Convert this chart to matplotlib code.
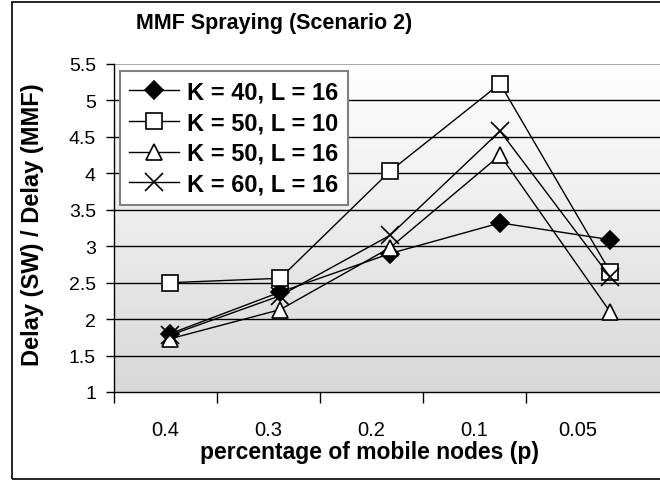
import numpy as np
import matplotlib
matplotlib.use("Agg")
import matplotlib.pyplot as plt
from matplotlib.patches import Rectangle
from matplotlib.ticker import FixedLocator, NullFormatter, FixedFormatter

plt.rcParams['font.family'] = ['Liberation Sans', 'DejaVu Sans']

categories = ["0.4", "0.3", "0.2", "0.1", "0.05"]
k40_l16 = [1.80, 2.37, 2.90, 3.32, 3.09]
k50_l10 = [2.50, 2.56, 4.03, 5.23, 2.65]
k50_l16 = [1.73, 2.13, 2.98, 4.25, 2.10]
k60_l16 = [1.78, 2.32, 3.15, 4.58, 2.58]
series_labels = ["K = 40, L = 16", "K = 50, L = 10", "K = 50, L = 16", "K = 60, L = 16"]
yticks = [1, 1.5, 2, 2.5, 3, 3.5, 4, 4.5, 5, 5.5]

W, H = 660, 481
fig = plt.figure(figsize=(W / 100, H / 100), dpi=100)

# axes placement in pixels
left_px, right_px, top_px, bot_px = 114, 660, 65, 393
ax = fig.add_axes([left_px / W, 1 - bot_px / H, (right_px - left_px) / W, (bot_px - top_px) / H])

# data x positions (category spacing 110px in reference)
cat_px = 110.0
xmax = (right_px - left_px) / cat_px
x = np.arange(len(categories)) + 0.51
ax.set_xlim(0, xmax)
ax.set_ylim(1, 5.5)

# gradient background
grad = np.linspace(0, 1, 256).reshape(-1, 1)
ax.imshow(grad, cmap=matplotlib.colors.LinearSegmentedColormap.from_list(
    "g", ["#d8d8d8", "#ffffff"]), origin="lower", aspect="auto",
    extent=[0, xmax, 1, 5.5], zorder=0)

# gridlines
for yv in yticks[1:-1]:
    ax.axhline(yv, color="black", lw=1.0, zorder=1)
ax.axhline(5.5, color="#999999", lw=1.2, zorder=1)

mk = dict(color="black", lw=1.0, markeredgecolor="black", markeredgewidth=1.2, zorder=3)
ax.plot(x, k40_l16, marker="D", markersize=9, markerfacecolor="black", label=series_labels[0], **mk)
ax.plot(x, k50_l10, marker="s", markersize=12, markerfacecolor="white", label=series_labels[1], **mk)
ax.plot(x, k50_l16, marker="^", markersize=12, markerfacecolor="white", label=series_labels[2], **mk)
ax.plot(x, k60_l16, marker="x", markersize=13, label=series_labels[3], **mk)

# spines
for s in ["top", "right"]:
    ax.spines[s].set_visible(False)
ax.spines["left"].set_linewidth(1.0)
ax.spines["bottom"].set_linewidth(1.0)

# y ticks
ax.set_yticks(yticks)
ax.set_yticklabels([("%g" % v) for v in yticks])
ax.tick_params(axis="y", direction="out", length=6, width=1, pad=7, labelsize=14)

# x ticks: category boundaries and labels (label spacing 103px in reference)
lab_px = 103.0 / cat_px
ax.xaxis.set_major_locator(FixedLocator([lab_px * k for k in range(5)]))
ax.xaxis.set_major_formatter(NullFormatter())
ax.xaxis.set_minor_locator(FixedLocator([lab_px * (k + 0.5) for k in range(5)]))
ax.xaxis.set_minor_formatter(FixedFormatter(categories))
ax.tick_params(axis="x", which="major", direction="out", length=8, width=1)
ax.tick_params(axis="x", which="minor", length=0, pad=20, labelsize=14.5)

leg = ax.legend(loc="upper left", bbox_to_anchor=(0.011, 0.979), borderaxespad=0,
                prop={"weight": "bold", "size": 17}, frameon=True, fancybox=False,
                edgecolor="#808080", framealpha=1, handlelength=2.1, handletextpad=0.35,
                labelspacing=0.33, borderpad=0.4)
leg.get_frame().set_linewidth(1.5)

fig.text(274 / W, 1 - 24 / H, "MMF Spraying (Scenario 2)", ha="center", va="center",
         fontsize=15.5, fontweight="bold")
fig.text(370 / W, 1 - 452 / H, "percentage of mobile nodes (p)", ha="center", va="center",
         fontsize=16.5, fontweight="bold")
fig.text(33 / W, 1 - 225 / H, "Delay (SW) / Delay (MMF)", ha="center", va="center",
         rotation=90, fontsize=17, fontweight="bold")

fig.patches.append(Rectangle((12 / W, 1 - 480 / H), 1.0, (477) / H, fill=False,
                             edgecolor="black", lw=1.2, transform=fig.transFigure, figure=fig))

fig.savefig("out.png", dpi=100)
